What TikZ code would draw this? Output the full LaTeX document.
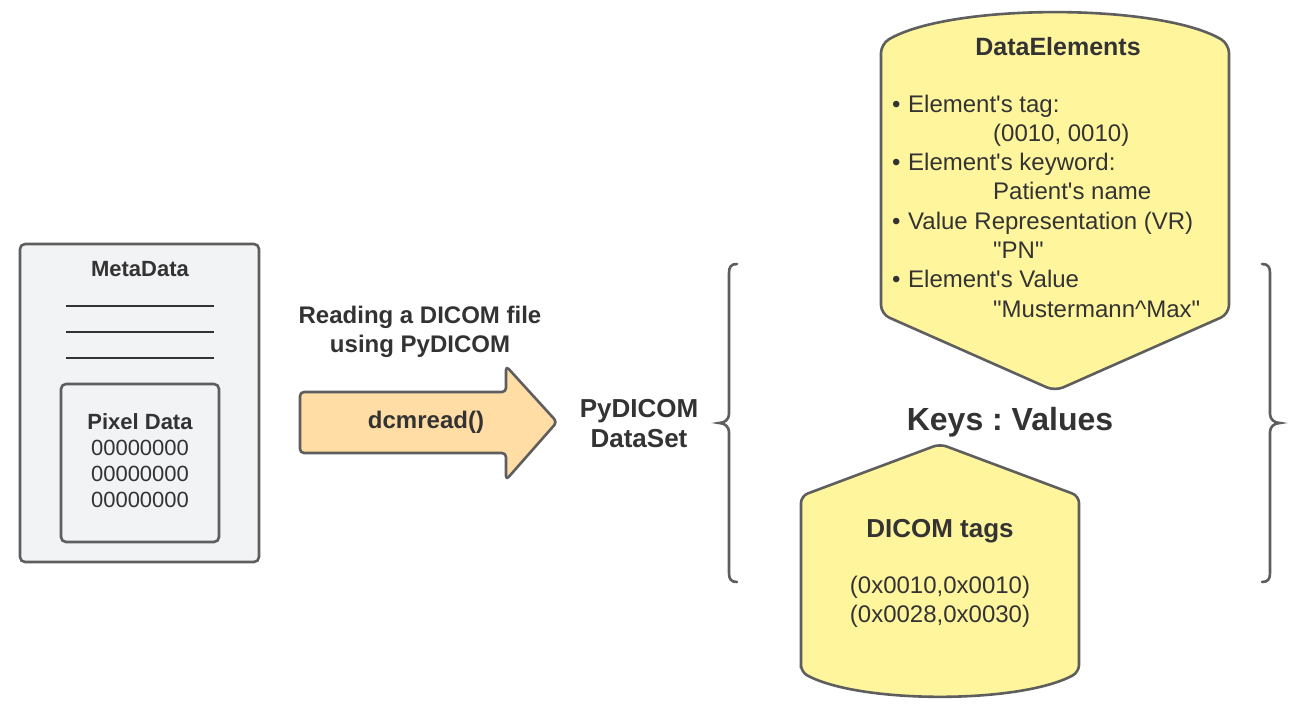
\documentclass[tikz,border=0pt]{standalone}
\usepackage{fontspec}
\setmainfont{Liberation Sans}[Ligatures=TeXOff]
\frenchspacing
\definecolor{strokegray}{RGB}{94,94,94}
\definecolor{textgray}{RGB}{51,51,51}
\definecolor{yellowfill}{RGB}{255,245,157}
\definecolor{orangefill}{RGB}{255,221,164}
\definecolor{grayfill}{RGB}{242,243,245}
\begin{document}
\begin{tikzpicture}[x=1pt,y=-1pt,
  shapeline/.style={draw=strokegray, line width=2.6pt, line join=round, rounded corners=7pt},
  bracestyle/.style={draw=strokegray, line width=2.6pt, line cap=round},
  ruleline/.style={draw=textgray, line width=1.1pt},
  txt/.style={inner sep=0pt, anchor=base, text=textgray, font=\fontsize{24}{28}\selectfont},
  txtw/.style={inner sep=0pt, anchor=base west, text=textgray, font=\fontsize{24}{28}\selectfont},
  boldtxt/.style={txt, font=\fontsize{#1}{#1}\selectfont\bfseries},
  smalltxt/.style={txt, font=\fontsize{22}{26}\selectfont}]
\useasboundingbox[fill=white] (0,0) rectangle (1301,709);

% ---------- MetaData file ----------
\draw[shapeline, fill=grayfill, rounded corners=5pt] (20,244) rectangle (259,562);
\node[boldtxt=22] (meta) at (140,276) {MetaData};
\draw[ruleline] (66,306) -- (214,306);
\draw[ruleline] (66,332) -- (214,332);
\draw[ruleline] (66,358) -- (214,358);
\draw[shapeline, fill=grayfill, rounded corners=5pt] (61,384) rectangle (219,542);
\node[boldtxt=22] (pix) at (140,429) {Pixel Data};
\node[smalltxt] (z1) at (140,455) {00000000};
\node[smalltxt] (z2) at (140,481) {00000000};
\node[smalltxt] (z3) at (140,507) {00000000};

% ---------- Arrow ----------
\node[boldtxt=24] (read1) at (420,323) {Reading a DICOM file};
\node[boldtxt=24] (read2) at (420,352) {using PyDICOM};
\draw[shapeline, fill=orangefill, rounded corners=4pt]
  (300,392) -- (506,392) -- (506,366) -- (557,422) -- (506,480) -- (506,453) -- (300,453) -- cycle;
\node[boldtxt=24] (dcm) at (426,428) {dcmread()};

\node[boldtxt=26] (ds1) at (639,417) {PyDICOM};
\node[boldtxt=26] (ds2) at (639,447) {DataSet};

% ---------- Braces ----------
\draw[bracestyle] (737,264) .. controls (731,264) and (729,267) .. (729,273) -- (729,414)
  .. controls (729,419) and (725,423) .. (719,423) .. controls (725,423) and (729,427) .. (729,432)
  -- (729,573) .. controls (729,579) and (731,582) .. (737,582);
\draw[bracestyle] (1262,264) .. controls (1268,264) and (1270,267) .. (1270,273) -- (1270,414)
  .. controls (1270,419) and (1274,423) .. (1280,423) .. controls (1274,423) and (1270,427) .. (1270,432)
  -- (1270,573) .. controls (1270,579) and (1268,582) .. (1262,582);

% ---------- DataElements ----------
\draw[shapeline, fill=yellowfill, rounded corners=9pt]
  (881,314) -- (881,44) .. controls (950,3) and (1160,3) .. (1229,44) -- (1229,314) -- (1055,391) -- cycle;
\node[boldtxt=25] (de) at (1058,56) {DataElements};
\node[txtw] (b1) at (892,112) {•};
\node[txtw] (l1) at (908,112) {Element's tag:};
\node[txtw] (v1) at (993,141.3) {(0010, 0010)};
\node[txtw] (b2) at (892,170.6) {•};
\node[txtw] (l2) at (908,170.6) {Element's keyword:};
\node[txtw] (v2) at (993,199.9) {Patient's name};
\node[txtw] (b3) at (892,229.2) {•};
\node[txtw] (l3) at (908,229.2) {Value Representation (VR)};
\node[txtw] (v3) at (993,258.5) {"PN"};
\node[txtw] (b4) at (892,287.8) {•};
\node[txtw] (l4) at (908,287.8) {Element's Value};
\node[txtw] (v4) at (993,317.1) {"Mustermann\^{}Max"};

% ---------- Keys : Values ----------
\node[boldtxt=32] (kv) at (1010,430) {Keys : Values};

% ---------- DICOM tags ----------
\draw[shapeline, fill=yellowfill]
  (801,672) -- (801,496) -- (940,444) -- (1079,496) -- (1079,672) .. controls (1020,704) and (860,704) .. cycle;
\node[boldtxt=26] (dt) at (940,537) {DICOM tags};
\node[txt] (t1) at (940,593) {(0x0010,0x0010)};
\node[txt] (t2) at (940,622) {(0x0028,0x0030)};
\end{tikzpicture}
\end{document}
